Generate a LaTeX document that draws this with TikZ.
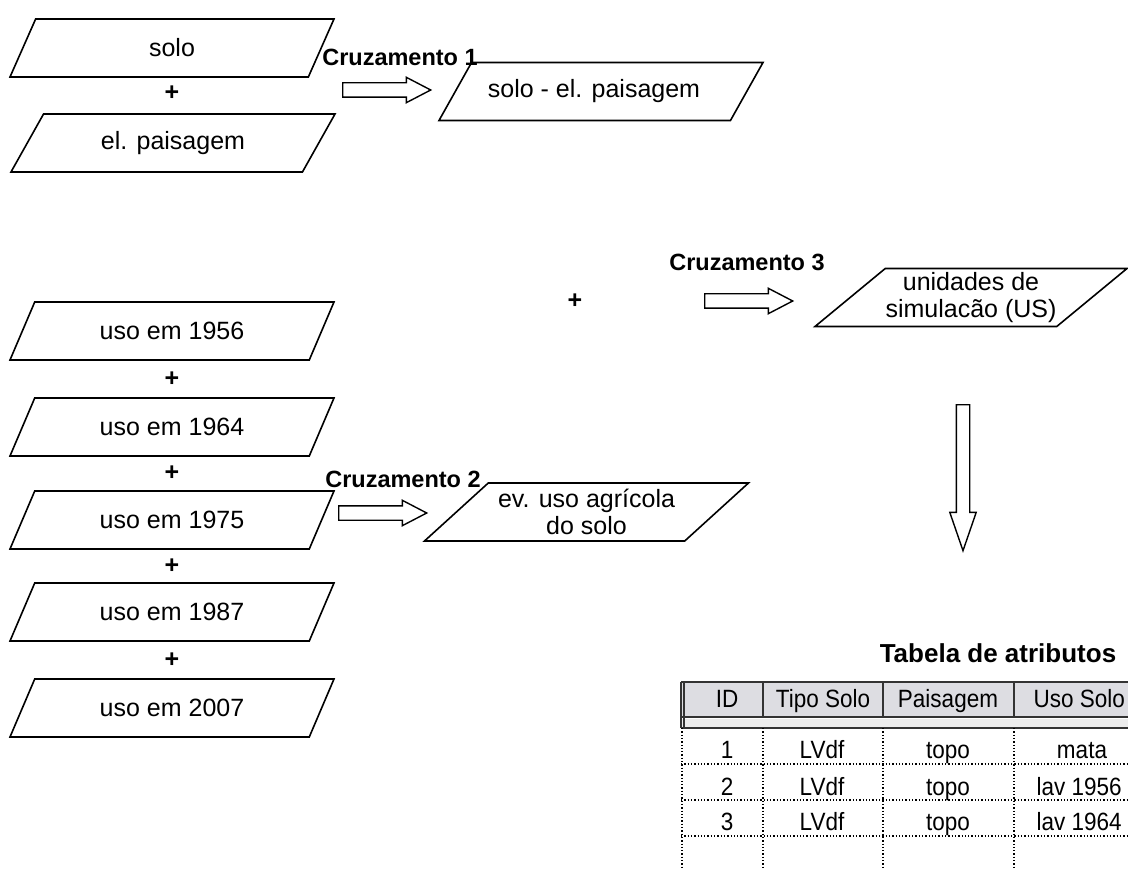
\documentclass[tikz,border=0pt]{standalone}
\usepackage{fontspec}
\setmainfont{Liberation Sans}
\newfontfamily\tabfont[FakeStretch=0.9]{Liberation Sans}
\usetikzlibrary{shapes.geometric, shapes.arrows}

\definecolor{cabec}{RGB}{221,221,226}
\definecolor{faixa}{RGB}{236,236,236}

\tikzset{
  camada/.style={draw, trapezium, trapezium left angle=35.6, trapezium right angle=144.4,
    trapezium stretches body, minimum width=324pt, minimum height=58pt, inner sep=0pt,
    line width=1.6pt, align=center, font=\fontsize{25}{27}\selectfont},
  seta/.style={draw, single arrow, single arrow head extend=5.5pt, single arrow tip angle=55,
    minimum width=24pt, minimum height=88pt, inner xsep=0pt, inner ysep=6.5pt, line width=1.4pt,
    anchor=tail},
  cruz/.style={font=\bfseries\fontsize{23.5}{26}\selectfont},
  mais/.style={font=\bfseries\fontsize{25}{26}\selectfont},
  celula/.style={font=\tabfont\fontsize{25}{28}\selectfont, text height=18pt, text depth=5pt, inner ysep=0pt},
}

\begin{document}
\begin{tikzpicture}[x=1pt, y=-1pt]
\useasboundingbox (0,0) rectangle (1128,869);
\clip (0,0) rectangle (1128,869);

% cruzamento 1
\node[camada] (solo) at (172,48) {solo};
\node[mais] (mais1) at (172,93) {+};
\node[camada] (paisagem) at (173,143) {el. paisagem};
\node[cruz] (cruz1) at (400,57) {Cruzamento 1};
\node[seta] (seta1) at (342,90) {};
\node[camada] (soloel) at (601,91.5) {solo - el. paisagem\hspace*{14pt}};

% uso do solo
\node[camada] (uso56) at (172,331) {uso em 1956};
\node[mais] (mais2) at (172,379) {+};
\node[camada] (uso64) at (172,427) {uso em 1964};
\node[mais] (mais3) at (172,473) {+};
\node[camada] (uso75) at (172,520) {uso em 1975};
\node[mais] (mais4) at (172,566) {+};
\node[camada] (uso87) at (172,612) {uso em 1987};
\node[mais] (mais5) at (172,660) {+};
\node[camada] (uso07) at (172,708) {uso em 2007};

% cruzamento 2
\node[cruz] (cruz2) at (403,479) {Cruzamento 2};
\node[seta] (seta2) at (338,513) {};
\node[camada] (evuso) at (586.5,512) {ev. uso agrícola\\do solo};

% cruzamento 3
\node[mais] (mais6) at (575,301) {+};
\node[cruz] (cruz3) at (747,262) {Cruzamento 3};
\node[seta] (seta3) at (704,301) {};
\node[camada, minimum width=312pt] (us) at (971,297.5) {unidades de\\simulacão (US)};
\node[seta, rotate=-90, minimum height=146pt, minimum width=25pt, inner ysep=6pt,
  single arrow head extend=6.5pt, single arrow tip angle=38] (seta4) at (963,404) {};

% tabela de atributos
\node[font=\bfseries\fontsize{26}{30}\selectfont] (titulo) at (998,653) {Tabela de atributos};
\fill[cabec] (681,682) rectangle (1128,716);
\fill[faixa] (681,719) rectangle (1128,727);
\draw[line width=1.5pt, black!80] (681,682) -- (1128,682);
\draw[line width=2pt, black!80] (681,717) -- (1128,717);
\draw[line width=1.5pt, black!80] (681,728) -- (1128,728);
\draw[line width=1.2pt, black!80] (681,682) -- (681,728) (684,682) -- (684,728);
\foreach \x in {763,883,1014}
  \draw[line width=2pt, black!80] (\x,682) -- (\x,716);
\foreach \y in {764,800,836}
  \draw[dotted, line width=1.3pt] (681,\y) -- (1128,\y);
\foreach \x in {682,763,883,1014}
  \draw[dotted, line width=1.3pt] (\x,728) -- (\x,869);

\node[celula] (hid) at (727,700.5) {ID};
\node[celula] (htipo) at (823,700.5) {Tipo Solo};
\node[celula] (hpais) at (948,700.5) {Paisagem};
\node[celula, anchor=west] (huso) at (1030,700.5) {Uso Solo};
\foreach \n/\y in {1/751.5, 2/788.5, 3/823.5}{
  \node[celula] (id\n) at (727,\y) {\n};
  \node[celula] (tipo\n) at (822,\y) {LVdf};
  \node[celula] (pais\n) at (948,\y) {topo};
}
\node[celula] (uso1) at (1082,751.5) {mata};
\node[celula, anchor=west] (uso2) at (1033,788.5) {lav 1956};
\node[celula, anchor=west] (uso3) at (1033,823.5) {lav 1964};
\end{tikzpicture}
\end{document}
